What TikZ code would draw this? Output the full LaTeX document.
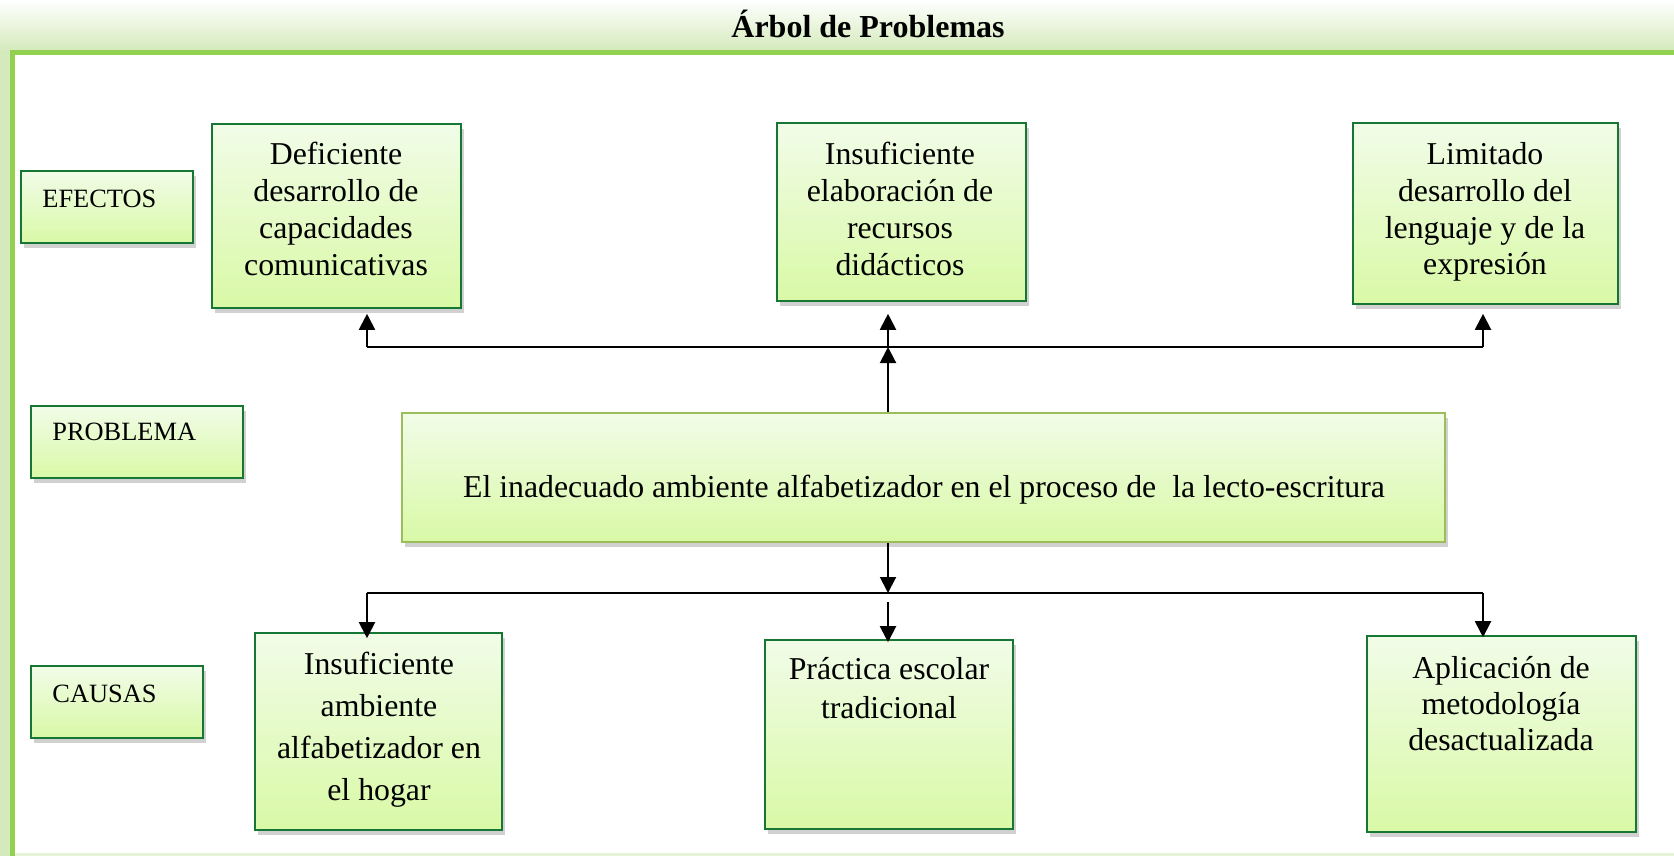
\documentclass[tikz,border=0pt]{standalone}
\usepackage{fontspec}
\setmainfont{Liberation Serif}
\usetikzlibrary{arrows.meta,shadows}
\definecolor{boxtop}{RGB}{241,252,232}
\definecolor{boxbot}{RGB}{217,249,166}
\definecolor{boxline}{RGB}{22,118,52}
\definecolor{probline}{RGB}{155,190,90}
\definecolor{bandgreen}{RGB}{213,234,188}
\definecolor{bargreen}{RGB}{146,208,80}

\begin{document}
\begin{tikzpicture}[x=0.5pt,y=-0.5pt,
    greenbox/.style={draw=boxline,line width=0.8pt,inner sep=0pt,
      top color=boxtop,bottom color=boxbot,
      drop shadow={shadow xshift=1.5pt,shadow yshift=-2.5pt,fill=black!45,opacity=0.4}},
    lbl/.style={anchor=base west,inner sep=0pt,font=\fontsize{13.2}{15}\selectfont},
    txt/.style={anchor=north,inner sep=0pt,align=center,font=\fontsize{15.9}{18.4}\selectfont},
    link/.style={line width=0.7pt},
    up/.style={line width=1pt,-{Triangle[width=8pt,length=8pt]}}]
  \useasboundingbox (0,0) rectangle (1674,856);
  \shade[top color=white,bottom color=bandgreen] (0,0) rectangle (1674,50);
  \fill[bandgreen] (0,50) rectangle (10,856);
  \fill[bargreen] (10,50) rectangle (1674,55);
  \fill[bargreen] (10,50) rectangle (15,856);
  \fill[bandgreen!60] (15,853) rectangle (1674,856);
  \node[anchor=base,inner sep=0pt,font=\bfseries\fontsize{16}{19}\selectfont] (titulo) at (868,38) {Árbol de Problemas};

  \node[greenbox,minimum width=86pt,minimum height=36pt] (efectos) at (107,207) {};
  \node[greenbox,minimum width=106pt,minimum height=36pt] (problema) at (137,442) {};
  \node[greenbox,minimum width=86pt,minimum height=36pt] (causas) at (117,702) {};
  \node[lbl] (efectosT) at (42,207) {EFECTOS};
  \node[lbl] (problemaT) at (52,440) {PROBLEMA};
  \node[lbl] (causasT) at (52,702) {CAUSAS};

  \node[greenbox,minimum width=124.5pt,minimum height=92pt] (e1) at (336.5,216) {};
  \node[greenbox,minimum width=124.5pt,minimum height=89pt] (e2) at (901.5,212) {};
  \node[greenbox,minimum width=132.5pt,minimum height=90.5pt] (e3) at (1485.5,213.5) {};
  \node[txt] (e1T) at (336,142) {Deficiente\\desarrollo de\\capacidades\\comunicativas};
  \node[txt] (e2T) at (900,142) {Insuficiente\\elaboración de\\recursos\\didácticos};
  \node[txt] (e3T) at (1485,142) {Limitado\\desarrollo del\\lenguaje y de la\\expresión};

  \node[greenbox,draw=probline,minimum width=521.5pt,minimum height=64.5pt] (prob) at (923.5,477.5) {};
  \node[txt,anchor=base] (probT) at (924,497) {El inadecuado ambiente alfabetizador en el proceso de \ la lecto-escritura};

  \node[greenbox,minimum width=123.5pt,minimum height=98.5pt] (c1) at (378.5,731.5) {};
  \node[greenbox,minimum width=124pt,minimum height=94.5pt] (c2) at (889,734.5) {};
  \node[greenbox,minimum width=134.5pt,minimum height=98pt] (c3) at (1501.5,734) {};
  \node[txt,font=\fontsize{15.9}{21}\selectfont] (c1T) at (379,652) {Insuficiente\\ambiente\\alfabetizador en\\el hogar};
  \node[txt,font=\fontsize{15.9}{19.5}\selectfont] (c2T) at (889,657) {Práctica escolar\\tradicional};
  \node[txt,font=\fontsize{15.9}{18}\selectfont] (c3T) at (1501,656) {Aplicación de\\metodología\\desactualizada};

  \coordinate (ul) at (367,347);
  \coordinate (um) at (888,347);
  \coordinate (ur) at (1483,347);
  \coordinate (dl) at (367,593);
  \coordinate (dm) at (888,593);
  \coordinate (dr) at (1483,593);

  \draw[link] (ul) -- (ur);
  \draw[up] (um |- prob.north) -- (um);
  \draw[up,shorten >=2.5pt] (ul) -- (ul |- e1.south);
  \draw[up,shorten >=6pt] (um) -- (um |- e2.south);
  \draw[up,shorten >=4.5pt] (ur) -- (ur |- e3.south);

  \draw[link] (dl) -- (dr);
  \draw[up] (um |- prob.south) -- (dm);
  \draw[up,shorten >=-3pt] (dl) -- (dl |- c1.north);
  \draw[up,shorten <=4.5pt,shorten >=-1.5pt] (dm) -- (dm |- c2.north);
  \draw[up,shorten >=-1pt] (dr) -- (dr |- c3.north);
\end{tikzpicture}
\end{document}
